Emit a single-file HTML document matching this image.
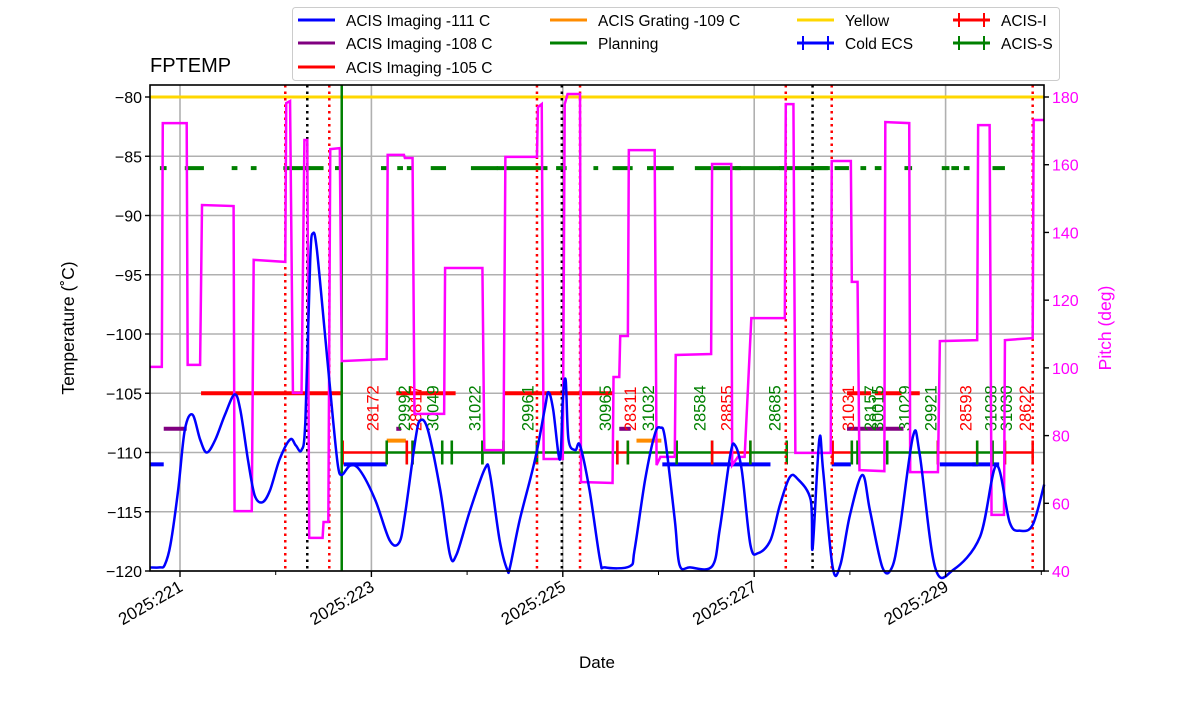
<!DOCTYPE html>
<html><head><meta charset="utf-8"><style>
body{margin:0;background:#fff;}
svg text{font-family:"Liberation Sans","DejaVu Sans",sans-serif;}
</style></head><body>
<svg id="chart" width="1200" height="714" viewBox="0 0 1200 714" xmlns="http://www.w3.org/2000/svg">
<rect width="1200" height="714" fill="#fff"/>
<g id="grid"></g>
<g id="marks"></g>
<g id="axes"></g>
<g id="legend"></g>
</svg>
<script>
// ---- data ----
const tempDays = [220.69,220.79,220.84,220.90,220.98,221.05,221.13,221.21,221.28,221.37,221.47,221.57,221.63,221.71,221.78,221.86,221.94,222.04,222.15,222.21,222.27,222.31,222.36,222.39,222.43,222.52,222.60,222.65,222.69,222.78,222.88,223.04,223.19,223.29,223.35,223.46,223.51,223.59,223.72,223.82,223.89,224.03,224.19,224.24,224.34,224.42,224.45,224.55,224.71,224.81,224.85,224.90,224.97,225.00,225.03,225.06,225.13,225.18,225.28,225.39,225.44,225.70,225.75,225.86,225.96,226.02,226.07,226.17,226.22,226.33,226.56,226.64,226.75,226.80,226.87,226.96,227.04,227.17,227.27,227.37,227.45,227.59,227.61,227.68,227.72,227.82,227.90,228.00,228.13,228.21,228.34,228.44,228.52,228.66,228.73,228.89,229.08,229.36,229.53,229.67,229.78,229.91,230.03];
const tempVals = [-119.7,-119.7,-119.5,-117.8,-113.2,-108.1,-106.8,-108.9,-110.0,-108.9,-106.8,-105.1,-106.4,-110.6,-113.6,-114.2,-113.2,-110.6,-108.9,-109.4,-109.8,-107.3,-93.8,-91.5,-92.9,-100.5,-107.3,-111.1,-111.9,-111.1,-111.5,-114.0,-117.4,-117.6,-115.3,-108.9,-107.3,-108.1,-113.2,-118.6,-118.6,-114.9,-111.3,-111.9,-117.4,-119.9,-119.6,-115.7,-110.6,-106.4,-104.9,-106.4,-110.6,-105.6,-103.9,-108.9,-109.8,-109.4,-113.2,-119.1,-119.7,-119.6,-118.2,-112.3,-108.5,-107.9,-108.9,-115.7,-119.5,-119.7,-119.6,-116.5,-110.2,-109.4,-111.5,-117.8,-118.5,-117.4,-114.4,-112.1,-112.2,-114.0,-118.1,-108.9,-111.5,-119.7,-119.5,-115.3,-111.9,-114.9,-119.7,-119.7,-116.5,-108.6,-110.2,-119.7,-119.9,-117.1,-111.1,-115.9,-116.6,-116.1,-112.7];
const pitchDays = [220.69,220.81,220.82,221.07,221.08,221.21,221.23,221.56,221.57,221.75,221.77,222.10,222.11,222.15,222.18,222.27,222.30,222.33,222.35,222.49,222.50,222.55,222.57,222.67,222.69,223.16,223.17,223.34,223.35,223.43,223.45,223.76,223.77,224.16,224.18,224.38,224.40,224.73,224.74,224.78,224.80,225.00,225.02,225.05,225.18,225.19,225.52,225.53,225.59,225.60,225.68,225.69,225.96,225.98,226.02,226.17,226.18,226.55,226.56,226.76,226.77,226.83,226.90,226.97,227.32,227.33,227.41,227.43,227.80,227.81,228.01,228.02,228.08,228.10,228.36,228.37,228.62,228.63,228.92,228.94,229.33,229.34,229.46,229.48,229.61,229.62,229.91,229.92,230.03];
const pitchVals = [100.3,100.3,172.3,172.3,100.9,100.9,148.1,147.8,57.7,57.7,131.9,131.3,178.2,178.8,92.6,92.6,167.3,167.3,49.8,49.8,54.5,54.5,164.6,164.9,102.0,102.6,162.9,162.9,162.0,162.0,86.4,86.4,129.5,129.5,75.7,75.7,162.3,162.3,177.0,177.9,73.1,73.1,177.9,180.9,180.9,66.3,66.0,97.3,97.3,109.4,109.4,164.3,164.3,71.3,73.7,73.7,103.8,104.1,160.2,160.2,71.3,73.7,73.7,114.7,114.7,177.9,177.9,74.9,74.9,161.1,161.1,125.4,125.4,69.8,69.5,172.6,172.3,69.2,69.2,107.9,108.2,171.7,171.7,56.6,56.6,108.2,108.8,173.2,173.2];
const planningStart = [220.79,221.05,221.54,221.74,222.08,222.31,222.62,223.10,223.27,223.37,223.62,224.04,224.31,224.93,225.32,225.52,225.88,226.38,226.80,227.26,227.63,227.84,228.11,228.26,228.57,228.96,229.06,229.19,229.49];
const planningEnd   = [220.86,221.25,221.60,221.80,222.36,222.50,222.69,223.16,223.33,223.42,223.78,224.32,224.84,225.04,225.37,225.73,226.16,226.86,227.32,227.77,227.79,227.99,228.17,228.33,228.65,229.04,229.14,229.25,229.62];
const limitLevels = [-111,-108,-105,-109];
const limitStart = [[220.69,222.71,226.04,227.81,228.94,229.28],[220.83,223.26,225.59,227.97],[221.22,223.26,223.57,224.38,227.97,228.26,228.62],[223.16,225.77]];
const limitEnd   = [[220.83,223.16,227.17,228.01,229.34,229.56],[221.07,223.31,225.71,228.56],[222.70,223.63,223.88,225.52,228.22,228.54,228.73],[223.36,226.03]];
const obsStart = [222.70,223.16,223.37,223.43,223.74,223.84,224.16,224.38,224.73,225.57,225.68,226.19,226.56,226.96,227.82,228.02,228.08,228.39,228.92,229.33,229.49,229.62];
const obsEnd   = [223.16,223.37,223.43,223.74,223.84,224.16,224.38,224.73,225.57,225.68,226.19,226.56,226.96,227.34,228.02,228.08,228.39,228.92,229.33,229.49,229.62,229.91];
const obsInst  = ['I','S','I','S','S','S','S','S','S','I','S','S','I','S','I','S','S','S','I','S','S','I'];
const obsIds   = ['28172','29992','28817','30049','31022','29961','30965','28311','31032','28584','28855','28685','31031','28157','30015','31029','29921','28593','31038','31030','28622'];
const obsLabelDays = [223.01,223.34,223.46,223.64,224.08,224.63,225.44,225.70,225.89,226.43,226.71,227.21,227.98,228.21,228.29,228.57,228.84,229.21,229.47,229.63,229.83];
const obsLabelInst = ['I','S','I','S','S','S','S','I','S','S','I','S','I','S','S','S','S','I','S','S','I'];
const redLines = [222.10,222.56,224.73,225.18,227.33,227.81,229.91];
const blackLines = [222.33,224.99,227.61];
const greenLines = [222.69];
const xMajor = [221,223,225,227,229];
const xMinor = [222,224,226,228,230];
const xTickLabels = ['2025:221','2025:223','2025:225','2025:227','2025:229'];
const yTicks = [-80,-85,-90,-95,-100,-105,-110,-115,-120];
const pTicks = [40,60,80,100,120,140,160,180];

// ---- scales ----
const L=150,R=1044,T=85,B=571;
const xS=d=>180+(d-221)*95.7;
const yT=t=>97+(-80-t)*11.85;
const yP=p=>97+(180-p)*3.386;
const NS='http://www.w3.org/2000/svg';
function mk(tag,attrs,parent){const e=document.createElementNS(NS,tag);for(const k in attrs)e.setAttribute(k,attrs[k]);parent.appendChild(e);return e;}
const grid=document.getElementById('grid'),marks=document.getElementById('marks'),axes=document.getElementById('axes'),legend=document.getElementById('legend');

function smoothPath(pts){
  let d='M'+pts[0][0]+','+pts[0][1];
  for(let i=0;i<pts.length-1;i++){
    const p0=pts[Math.max(0,i-1)],p1=pts[i],p2=pts[i+1],p3=pts[Math.min(pts.length-1,i+2)];
    const c1x=p1[0]+(p2[0]-p0[0])/6,c1y=p1[1]+(p2[1]-p0[1])/6;
    const c2x=p2[0]-(p3[0]-p1[0])/6,c2y=p2[1]-(p3[1]-p1[1])/6;
    d+=' C'+c1x.toFixed(1)+','+c1y.toFixed(1)+' '+c2x.toFixed(1)+','+c2y.toFixed(1)+' '+p2[0].toFixed(1)+','+p2[1].toFixed(1);
  }
  return d;
}

// grid
xMajor.forEach(d=>{const l=mk('line',{x1:xS(d),x2:xS(d),y1:T,y2:B,stroke:'#b0b0b0','stroke-width':1.6},grid);

});
yTicks.forEach(t=>{const l=mk('line',{x1:L,x2:R,y1:yT(t),y2:yT(t),stroke:'#b0b0b0','stroke-width':1.6},grid);

});

// yellow
let e=mk('line',{x1:L,x2:R,y1:yT(-80),y2:yT(-80),stroke:'#ffd700','stroke-width':3},marks);


// planning
planningStart.forEach((s,i)=>{const l=mk('line',{x1:xS(s),x2:xS(planningEnd[i]),y1:yT(-86),y2:yT(-86),stroke:'#008000','stroke-width':4},marks);

});
// limits
const limColors=['#0000ff','#800080','#ff0000','#ff8c00'];
const limNames=['acis-imaging-111-line','acis-imaging-108-line','acis-imaging-105-line','acis-grating-109-line'];
limitLevels.forEach((lv,j)=>{limitStart[j].forEach((s,i)=>{const l=mk('line',{x1:xS(s),x2:xS(limitEnd[j][i]),y1:yT(lv),y2:yT(lv),stroke:limColors[j],'stroke-width':4},marks);

});});
// obs bars
obsStart.forEach((s,i)=>{const c=obsInst[i]==='I'?'#ff0000':'#008000';const y=yT(-110);
const g=mk('g',{},marks);


mk('line',{x1:xS(s),x2:xS(obsEnd[i]),y1:y,y2:y,stroke:c,'stroke-width':2.5},g);
mk('line',{x1:xS(s),x2:xS(s),y1:y-12,y2:y+12,stroke:c,'stroke-width':2.5},g);
mk('line',{x1:xS(obsEnd[i]),x2:xS(obsEnd[i]),y1:y-12,y2:y+12,stroke:c,'stroke-width':2.5},g);});
obsIds.forEach((id,i)=>{const x=xS(obsLabelDays[i])+6,y=yT(-108.2);const t=mk('text',{x:x,y:y,transform:`rotate(-90 ${x} ${y})`,fill:obsLabelInst[i]==='I'?'#ff0000':'#008000','font-size':16.5},marks);t.textContent=id;

});
// vertical lines
redLines.forEach(d=>{const l=mk('line',{x1:xS(d),x2:xS(d),y1:T,y2:B,stroke:'#ff0000','stroke-width':2.5,'stroke-dasharray':'2.5 4'},marks);

});
blackLines.forEach(d=>{const l=mk('line',{x1:xS(d),x2:xS(d),y1:T,y2:B,stroke:'#000','stroke-width':2.5,'stroke-dasharray':'2.5 4'},marks);

});
greenLines.forEach(d=>{const l=mk('line',{x1:xS(d),x2:xS(d),y1:T,y2:B,stroke:'#008000','stroke-width':2.5},marks);

});
// pitch
e=mk('polyline',{points:pitchDays.map((d,i)=>xS(d)+','+yP(pitchVals[i])).join(' '),fill:'none',stroke:'#ff00ff','stroke-width':2.5},marks);


// temp
e=mk('path',{d:smoothPath(tempDays.map((d,i)=>[xS(d),yT(tempVals[i])])),fill:'none',stroke:'#0000ff','stroke-width':2.5,'stroke-linejoin':'round'},marks);



// axes
e=mk('rect',{x:L,y:T,width:R-L,height:B-T,fill:'none',stroke:'#000','stroke-width':1.6},axes);


yTicks.forEach(t=>{mk('line',{x1:L-5,x2:L,y1:yT(t),y2:yT(t),stroke:'#000','stroke-width':1.4},axes);
const tx=mk('text',{x:L-8,y:yT(t)+6,'text-anchor':'end','font-size':16},axes);tx.textContent=String(t).replace('-','\u2212');

});
pTicks.forEach(p=>{mk('line',{x1:R,x2:R+5,y1:yP(p),y2:yP(p),stroke:'#000','stroke-width':1.4},axes);
const tx=mk('text',{x:R+8,y:yP(p)+6,'font-size':16,fill:'#ff00ff'},axes);tx.textContent=p;

});
xMajor.forEach((d,i)=>{mk('line',{x1:xS(d),x2:xS(d),y1:B,y2:B+6,stroke:'#000','stroke-width':1.4},axes);
const x=xS(d)+4,y=B+19;const tx=mk('text',{x:x,y:y,'text-anchor':'end','font-size':17,transform:`rotate(-30 ${x} ${y})`},axes);tx.textContent=xTickLabels[i];

});
xMinor.forEach(d=>{mk('line',{x1:xS(d),x2:xS(d),y1:B,y2:B+4,stroke:'#000','stroke-width':1},axes);});
e=mk('text',{x:597,y:668,'text-anchor':'middle','font-size':17},axes);e.textContent='Date';


e=mk('text',{x:74,y:328,'text-anchor':'middle','font-size':17.5,transform:'rotate(-90 74 328)'},axes);e.textContent='Temperature (\u02DaC)';


e=mk('text',{x:1111,y:328,'text-anchor':'middle','font-size':17.5,fill:'#ff00ff',transform:'rotate(-90 1111 328)'},axes);e.textContent='Pitch (deg)';


e=mk('text',{x:150,y:72,'font-size':20},axes);e.textContent='FPTEMP';



// legend
e=mk('rect',{x:292.5,y:7.5,width:767,height:73,rx:3,fill:'#fff',stroke:'#ccc','stroke-width':1},legend);


const legItems=[['ACIS Imaging -111 C','#0000ff',298,20,0],['ACIS Imaging -108 C','#800080',298,43,0],['ACIS Imaging -105 C','#ff0000',298,67,0],['ACIS Grating -109 C','#ff8c00',550,20,0],['Planning','#008000',550,43,0],['Yellow','#ffd700',797,20,0],['Cold ECS','#0000ff',797,43,1],['ACIS-I','#ff0000',953,20,1],['ACIS-S','#008000',953,43,1]];
legItems.forEach(it=>{const g=mk('g',{},legend);


mk('line',{x1:it[2],x2:it[2]+37,y1:it[3],y2:it[3],stroke:it[1],'stroke-width':3},g);
if(it[4]){mk('line',{x1:it[2]+6,x2:it[2]+6,y1:it[3]-7,y2:it[3]+7,stroke:it[1],'stroke-width':2},g);mk('line',{x1:it[2]+31,x2:it[2]+31,y1:it[3]-7,y2:it[3]+7,stroke:it[1],'stroke-width':2},g);}
const t=mk('text',{x:it[2]+48,y:it[3]+6,'font-size':15.5},g);t.textContent=it[0];});
</script>
</body></html>
